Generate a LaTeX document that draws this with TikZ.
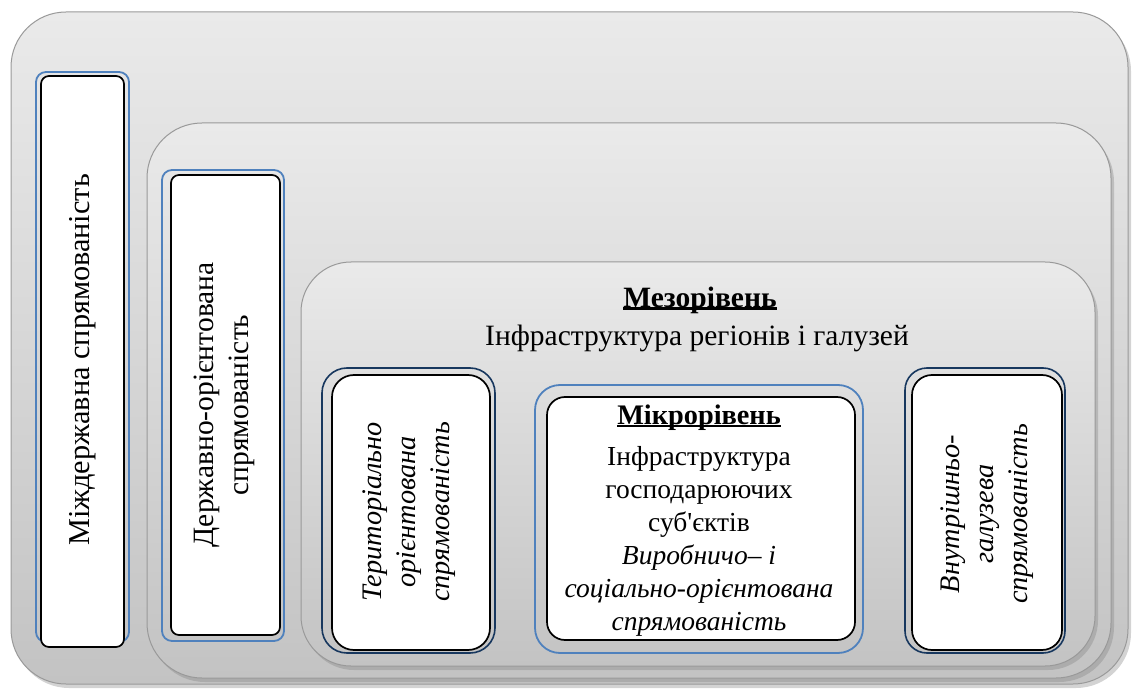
\documentclass[tikz,border=0pt]{standalone}
\usepackage{fontspec}
\setmainfont{Liberation Serif}
\newfontfamily\timesfont{Liberation Serif}
\usetikzlibrary{shadows}
\definecolor{frameblue}{HTML}{4F81BD}
\definecolor{framenavy}{HTML}{17375E}
\definecolor{tiertop}{HTML}{EAEAEA}
\definecolor{tierbot}{HTML}{C3C3C3}
\newcommand\thickul[1]{\setbox0\hbox{#1}\rlap{\rule[-2.5pt]{\wd0}{2.6pt}}\box0}

\begin{document}
\begin{tikzpicture}[
  x=1pt, y=-1pt,
  every node/.style={font=\timesfont\fontsize{29.5}{35}\selectfont, align=center, inner sep=0pt},
  smalltext/.style={font=\timesfont\fontsize{28.3}{34}\selectfont},
  tier/.style={rounded corners=55pt, top color=tiertop, bottom color=tierbot,
    draw=gray!80, line width=1pt,
    drop shadow={shadow xshift=3pt, shadow yshift=-4pt, opacity=0.35}},
  blueframe/.style={draw=frameblue, line width=1.8pt, rounded corners=#1},
  navyframe/.style={draw=framenavy, line width=1.6pt, rounded corners=#1},
  whitebox/.style={draw=black, fill=white, line width=1.7pt, rounded corners=#1},
  vtext/.style={rotate=90}
]
\useasboundingbox (0,0) rectangle (1133,695);

% рівні
\path[tier] (11,12) rectangle (1128,684);
\path[tier] (147,123) rectangle (1111,678);
\path[tier, rounded corners=50pt] (301,262) rectangle (1095,666);

% міждержавна спрямованість
\draw[blueframe=10pt] (36,72) rectangle (129,642);
\draw[whitebox=8pt] (41,76) rectangle (124,647);
\node[vtext, font=\timesfont\fontsize{30.3}{35}\selectfont] (mizhd) at (83,360) {Міждержавна спрямованість};

% державно-орієнтована спрямованість
\draw[blueframe=10pt] (162,170) rectangle (284,641);
\draw[whitebox=8pt] (171,175) rectangle (280,635);
\node[vtext] (derzh) at (224,405) {Державно-орієнтована\\спрямованість};

% мезорівень
\node (mezo) at (700,300) {\textbf{\thickul{Мезорівень}}};
\node (mezoinfra) at (697,338) {Інфраструктура регіонів і галузей};

% територіально орієнтована
\draw[navyframe=25pt] (322,368) rectangle (495,653);
\draw[whitebox=22pt] (332,375) rectangle (490,650);
\node[vtext, smalltext] (terit) at (409,512) {\itshape Територіально\\\itshape орієнтована\\\itshape спрямованість};

% мікрорівень
\draw[blueframe=25pt] (535,385) rectangle (863,653);
\draw[whitebox=18pt] (547,397) rectangle (855,640);
\node[smalltext] (mikro) at (699,418) {\textbf{\thickul{Мікрорівень}}};
\node[font=\timesfont\fontsize{27.5}{33}\selectfont] (mikroinfra) at (699,541)
  {Інфраструктура\\господарюючих\\суб\textquotesingle єктів\\
  \itshape Виробничо– і\\\itshape соціально-орієнтована\\\itshape спрямованість};

% внутрішньо-галузева
\draw[navyframe=22pt] (905,368) rectangle (1065,653);
\draw[whitebox=20pt] (912,375) rectangle (1062,650);
\node[vtext, smalltext] (vnutr) at (987,514) {\itshape Внутрішньо-\\\itshape галузева\\\itshape спрямованість};

\end{tikzpicture}
\end{document}
